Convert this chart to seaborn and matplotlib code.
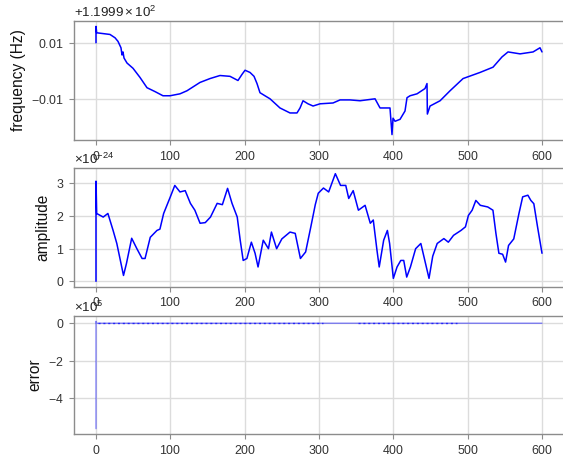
import matplotlib
matplotlib.use("Agg")
import matplotlib.pyplot as plt
import matplotlib.ticker as mticker
import seaborn as sns
import pandas as pd

# ---------------- data ----------------
freq_offset = 119.99
freq_t = [0, 0, 0.9, 18.8, 25.6, 29.6, 33.6, 35.0, 36.3, 37.7, 41.7, 49.8, 59.2, 68.6,
          79.4, 90.1, 99.6, 113, 122.4, 139.9, 153.4, 166.8, 180.3, 191, 196.4, 200.5,
          207.2, 212.6, 216.6, 220.6, 227.3, 234.1, 247.5, 261, 270.4, 274.5, 278.5,
          285.2, 292, 301.4, 318.9, 328.3, 341.7, 355.2, 375.4, 382.1, 395.5, 398.2,
          399.6, 402.3, 409, 415.7, 418.4, 422.5, 431.9, 442.6, 445.3, 445.8, 449.4,
          462.9, 476.3, 493.8, 516.6, 534.1, 546.2, 554.3, 570.5, 588, 597.3, 600]
freq_delta = [0.0101, 0.0160, 0.0137, 0.0131, 0.0119, 0.0106, 0.0083, 0.0057, 0.0068,
              0.0046, 0.0028, 0.0009, -0.0024, -0.0061, -0.0075, -0.0090, -0.0090,
              -0.0083, -0.0072, -0.0042, -0.0028, -0.0017, -0.0020, -0.0035, -0.0013,
              0.0002, -0.0006, -0.0020, -0.0046, -0.0079, -0.0090, -0.0101, -0.0134,
              -0.0152, -0.0152, -0.0134, -0.0108, -0.0119, -0.0127, -0.0119, -0.0116,
              -0.0105, -0.0105, -0.0108, -0.0101, -0.0134, -0.0134, -0.0230, -0.0171,
              -0.0182, -0.0175, -0.0145, -0.0097, -0.0090, -0.0083, -0.0064, -0.0046,
              -0.0156, -0.0127, -0.0108, -0.0072, -0.0028, -0.0006, 0.0013, 0.0050,
              0.0068, 0.0061, 0.0068, 0.0083, 0.0068]

amp_t = [0, 0, 0.9, 9.7, 16, 23, 28, 37, 41, 48, 55, 62, 66, 73, 82, 86, 91, 100, 106,
         113, 120, 127, 133, 140, 147, 154, 163, 170, 177, 183, 190, 194, 198, 203, 209,
         214, 218, 225, 232, 236, 243, 250, 261, 268, 275, 282, 289, 295, 299, 306, 313,
         322, 329, 336, 340, 346, 353, 362, 369, 373, 378, 381, 387, 392, 395, 400, 405,
         410, 414, 418, 423, 430, 437, 448, 453, 459, 468, 474, 481, 491, 497, 501, 506,
         511, 517, 527, 534, 538, 542, 547, 551, 555, 562, 569, 574, 581, 585, 589, 594,
         600]
amp_val = [0.0, 3.07, 2.08, 1.97, 2.08, 1.56, 1.16, 0.18, 0.55, 1.32, 1.0, 0.7, 0.7,
           1.35, 1.56, 1.6, 2.08, 2.59, 2.94, 2.74, 2.78, 2.39, 2.18, 1.78, 1.8, 1.97,
           2.39, 2.35, 2.85, 2.39, 1.97, 1.26, 0.64, 0.7, 1.2, 0.86, 0.44, 1.26, 1.0,
           1.51, 1.0, 1.3, 1.51, 1.47, 0.7, 0.9, 1.67, 2.35, 2.7, 2.86, 2.74, 3.3, 2.94,
           2.94, 2.54, 2.78, 2.18, 2.33, 1.78, 1.88, 0.95, 0.44, 1.26, 1.56, 1.16, 0.09,
           0.44, 0.64, 0.64, 0.13, 0.44, 1.0, 1.16, 0.09, 0.77, 1.16, 1.31, 1.2, 1.41,
           1.56, 1.67, 2.02, 2.18, 2.48, 2.33, 2.28, 2.18, 1.47, 0.86, 0.83, 0.59, 1.1,
           1.3, 2.08, 2.59, 2.64, 2.48, 2.38, 1.67, 0.86]
amp_scale = 1e-24

err_t = [0, 0, 0.5, 600]
err_val = [-5.61e5, 0.10e5, 0.0, 0.0]
err_active_t = [[3, 305], [352, 485]]   # stretches where the error flickers near 0

xticks = [0, 100, 200, 300, 400, 500, 600]

# ---------------- style ----------------
sns.set_theme(style="whitegrid")
plt.rcParams.update({
    "font.family": ["Liberation Sans", "DejaVu Sans"],
    "mathtext.fontset": "custom",
    "mathtext.rm": "Liberation Sans",
    "mathtext.it": "Liberation Sans:italic",
    "mathtext.bf": "Liberation Sans:bold",
    "axes.formatter.limits": [-3, 3],
    "axes.formatter.use_mathtext": True,
    "axes.edgecolor": "#8c8c8c",
    "axes.linewidth": 1.0,
    "grid.color": "#dcdcdc",
    "grid.linewidth": 1.0,
    "xtick.bottom": True,
    "ytick.left": True,
    "xtick.color": "#8c8c8c",
    "ytick.color": "#8c8c8c",
    "xtick.labelcolor": "#333333",
    "ytick.labelcolor": "#333333",
    "xtick.major.size": 3.5,
    "ytick.major.size": 3.5,
    "xtick.major.width": 0.8,
    "ytick.major.width": 0.8,
    "xtick.labelsize": 8.9,
    "ytick.labelsize": 8.9,
    "axes.labelsize": 11.2,
    "axes.labelcolor": "#111111",
})

W, H = 563, 459
fig = plt.figure(figsize=(W / 100, H / 100), dpi=100)

def box(left, top, right, bottom):
    return [left / W, 1 - bottom / H, (right - left) / W, (bottom - top) / H]

ax1 = fig.add_axes(box(73.7, 21, 564.3, 140))
ax2 = fig.add_axes(box(73.7, 168.3, 564.3, 286.7))
ax3 = fig.add_axes(box(73.7, 316, 564.3, 434))

df_f = pd.DataFrame({"t": freq_t, "f": [freq_offset + d for d in freq_delta]})
df_a = pd.DataFrame({"t": amp_t, "a": [v * amp_scale for v in amp_val]})
df_e = pd.DataFrame({"t": err_t, "e": err_val})

sns.lineplot(data=df_f, x="t", y="f", ax=ax1, color="blue", lw=1.1,
             estimator=None, sort=False)
sns.lineplot(data=df_a, x="t", y="a", ax=ax2, color="blue", lw=1.1,
             estimator=None, sort=False)
sns.lineplot(data=df_e, x="t", y="e", ax=ax3, color="blue", lw=1.0, alpha=0.45,
             estimator=None, sort=False)
for seg in err_active_t:
    seg_df = pd.DataFrame({"t": seg, "e": [0.0, 0.0]})
    sns.lineplot(data=seg_df, x="t", y="e", ax=ax3, color="blue", lw=1.0, alpha=0.7,
                 estimator=None, sort=False)
    ax3.lines[-1].set_dashes([1.5, 2.0])

fmt = mticker.ScalarFormatter(useOffset=freq_offset, useMathText=True)
ax1.yaxis.set_major_formatter(fmt)

ax1.set_ylabel("frequency (Hz)")
ax2.set_ylabel("amplitude")
ax3.set_ylabel("error")

for ax in (ax1, ax2, ax3):
    ax.set_xlabel("")
    ax.set_xticks(xticks)
    ax.set_xlim(-30, 630)
    ax.yaxis.get_offset_text().set_fontsize(9.6)
    ax.yaxis.get_offset_text().set_color("#222222")
    for s in ax.spines.values():
        s.set_color("#8c8c8c")

fig.savefig("out.png", dpi=100)
